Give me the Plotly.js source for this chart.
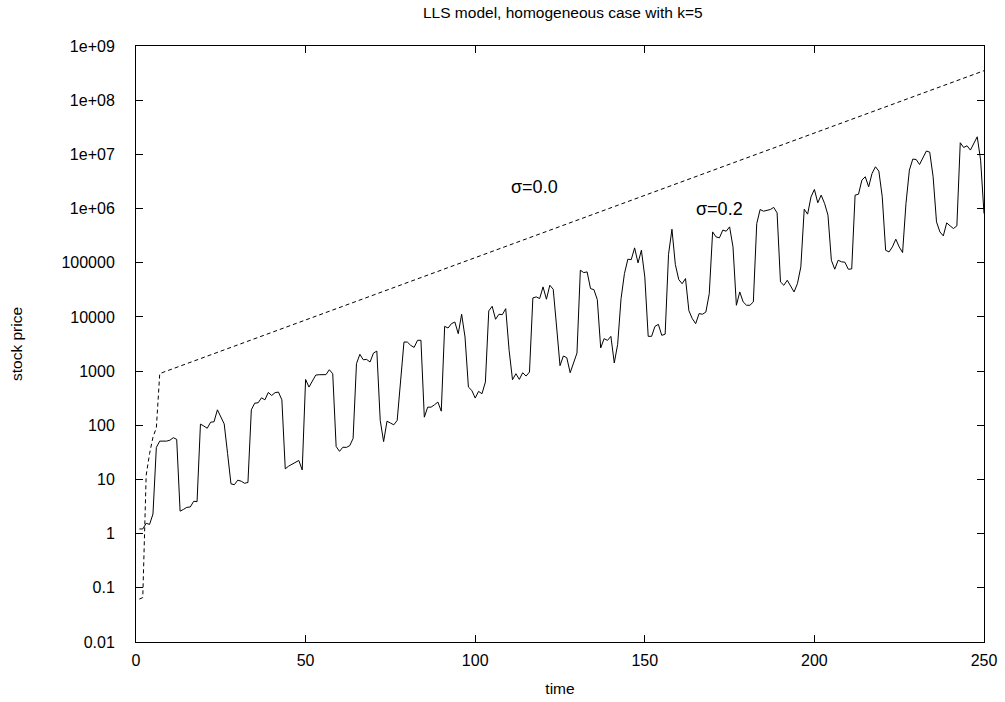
<!DOCTYPE html>
<html><head><meta charset="utf-8">
<script src="https://cdn.plot.ly/plotly-3.0.1.min.js"></script>
<style>body{margin:0;background:#fff}#chart{width:1005px;height:702px}</style>
</head><body><div id="chart"></div>
<script>
// sigma = 0.2 series, t = 1..250
const priceNoise = [
1.22,1.22,1.55,1.48,2.3,39,51,51,51,53,
59,55,2.6,2.8,3.06,3.1,3.95,3.9,105,97,
88,114,116,193,143,106,30,8.3,8.0,9.7,
9.3,8.5,8.8,193,256,260,321,295,403,355,
400,410,295,15.7,17.6,19,20.2,22.4,15,701,
507,673,845,857,857,860,1060,893,40.6,33,
39.4,39,42,57,1370,2040,1620,1640,1470,2150,
2340,123,50,119,110,102,123,600,3440,3430,
2980,2740,3700,3700,141,216,216,239,268,182,
6700,6240,7500,8050,4900,11200,4250,507,440,318,
422,382,627,12900,15700,9040,11200,11000,14200,2420,
693,895,703,933,810,960,22400,23400,21800,35800,
21200,38400,32400,6520,1260,1900,1770,933,1410,2150,
72800,65800,67700,33300,31900,20800,2670,3970,3690,4380,
1410,3120,21800,63000,116000,114000,188000,99300,170000,54700,
4380,4380,6700,7290,4570,4800,143000,415000,93000,49000,
41000,51000,13000,9300,7500,11500,11200,12300,26800,371000,
300000,288000,400000,382000,459000,196000,16400,28900,18900,16400,
16400,18900,528000,959000,893000,933000,959000,1050000,833000,44200,
38400,47500,35800,28900,41200,83700,973000,787000,1640000,2250000,
1280000,1770000,1240000,755000,111000,76000,111000,104000,102000,75800,
76900,1770000,1840000,3350000,3860000,2520000,4450000,5900000,4910000,1650000,
170000,158000,196000,272000,196000,154000,1240000,5120000,8170000,8050000,
6500000,8400000,11500000,11000000,3860000,568000,371000,313000,544000,479000,
428000,479000,16400000,13400000,14400000,12000000,15900000,21100000,7830000,809000
];
const timeNoise = priceNoise.map((v, i) => i + 1);

// sigma = 0.0 series (vertices of the line)
const timeFlat  = [1, 2, 3, 4, 5, 6, 7, 250];
const priceFlat = [0.062, 0.066, 12, 30, 60, 90, 900, 3.5e8];

const xTickVals = [0, 50, 100, 150, 200, 250];
const yTickVals = [0.01, 0.1, 1, 10, 100, 1000, 10000, 100000, 1e6, 1e7, 1e8, 1e9];
const yTickText = ["0.01","0.1","1","10","100","1000","10000","100000","1e+06","1e+07","1e+08","1e+09"];

const FONT = "Liberation Sans, Arial, Helvetica, sans-serif";

const traces = [
  {x: timeFlat, y: priceFlat, type: 'scatter', mode: 'lines', name: 'σ=0.0',
   line: {color: '#000', width: 1, dash: '4px,3px'}},
  {x: timeNoise, y: priceNoise, type: 'scatter', mode: 'lines', name: 'σ=0.2',
   line: {color: '#000', width: 1}}
];

const axisCommon = {
  showline: true, mirror: 'allticks', linecolor: '#000', linewidth: 1,
  ticks: 'inside', ticklen: 7, tickcolor: '#000', tickwidth: 1,
  showgrid: false, zeroline: false,
  tickfont: {family: FONT, size: 16, color: '#000'}
};

const layout = {
  width: 1005, height: 702,
  margin: {l: 136, r: 21, t: 46, b: 60},
  paper_bgcolor: '#fff', plot_bgcolor: '#fff',
  showlegend: false,
  title: {text: 'LLS model, homogeneous case with k=5', x: 0.56, xanchor: 'center', y: 0.982, yanchor: 'middle',
          font: {family: FONT, size: 15.5, color: '#000'}},
  xaxis: Object.assign({}, axisCommon, {
    range: [0, 250], tickvals: xTickVals, ticklabelstandoff: 4,
    title: {text: 'time', font: {family: FONT, size: 15.5, color: '#000'}, standoff: 14}
  }),
  yaxis: Object.assign({}, axisCommon, {
    type: 'log', range: [-2, 9], tickvals: yTickVals, ticktext: yTickText, ticklabelstandoff: 17,
    title: {text: 'stock price', font: {family: FONT, size: 15.5, color: '#000'}, standoff: 34}
  }),
  annotations: [
    {x: 117.5, y: 6.4, xref: 'x', yref: 'y', text: 'σ=0.0', showarrow: false,
     font: {family: FONT, size: 18, color: '#000'}},
    {x: 172, y: 6.0, xref: 'x', yref: 'y', text: 'σ=0.2', showarrow: false,
     font: {family: FONT, size: 18, color: '#000'}}
  ]
};

Plotly.newPlot('chart', traces, layout, {displayModeBar: false, staticPlot: true});
</script>
</body></html>
